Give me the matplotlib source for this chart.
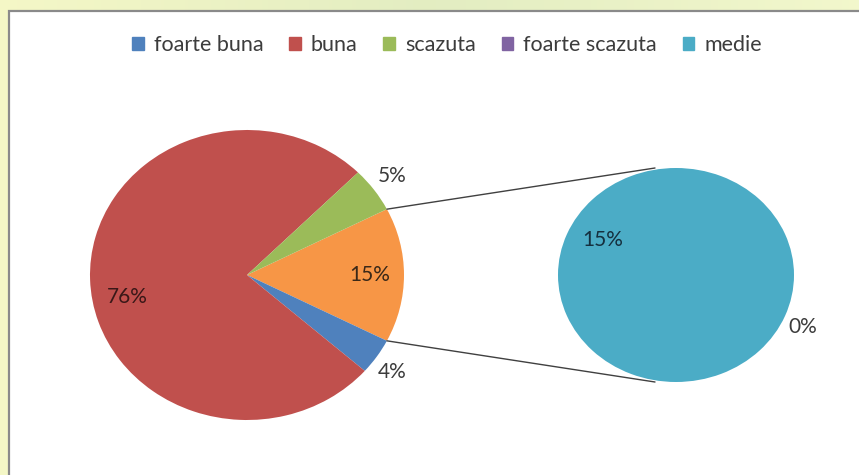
import numpy as np
import matplotlib.pyplot as plt
from matplotlib.patches import Rectangle, ConnectionPatch

# data
categories = ["foarte buna", "buna", "scazuta", "foarte scazuta", "medie"]
values = [4, 76, 5, 0, 15]
colors = ["#4F81BD", "#C0504D", "#9BBB59", "#8064A2", "#4BACC6"]
other_color = "#F79646"

W, H = 859, 475
fig = plt.figure(figsize=(W / 100, H / 100), dpi=100)

def box(x0, y0, x1, y1):
    # pixel box (top-left origin) -> figure fraction rect
    return [x0 / W, 1 - y1 / H, (x1 - x0) / W, (y1 - y0) / H]

# slide background strip + white chart area
bg = fig.add_axes([0, 0, 1, 1])
grad = np.linspace(0, 1, 256)
c_left = np.array([0.96, 0.97, 0.78])
c_mid = np.array([0.89, 0.93, 0.76])
c_right = np.array([0.95, 0.97, 0.80])
row = np.where(grad[:, None] < 0.5,
               c_left + (c_mid - c_left) * (grad[:, None] / 0.5),
               c_mid + (c_right - c_mid) * ((grad[:, None] - 0.5) / 0.5))
bg.imshow(row[None, :, :], aspect="auto", extent=[0, 1, 0, 1])
bg.add_patch(Rectangle((9 / W, -0.05), 1.0, 1 - 11 / H + 0.05,
                       facecolor="white", edgecolor="#8a8a8a", lw=1.6,
                       transform=bg.transAxes))
bg.set_xlim(0, 1)
bg.set_ylim(0, 1)
bg.axis("off")

# main pie: "other" group = foarte scazuta + medie
other = values[3] + values[4]
main_vals = [other, values[0], values[1], values[2]]
main_cols = [other_color, colors[0], colors[1], colors[2]]
ax1 = fig.add_axes(box(90, 130, 404, 420))
ax1.pie(main_vals, colors=main_cols, startangle=other / 100 * 180,
        counterclock=False, radius=1, wedgeprops=dict(linewidth=0))
ax1.set_aspect("auto")
ax1.set_xlim(-1, 1)
ax1.set_ylim(-1, 1)
ax1.axis("off")

# secondary pie
ax2 = fig.add_axes(box(558, 168, 794, 382))
sub_vals = [values[4], values[3]]
ax2.pie(sub_vals, colors=[colors[4], colors[3]], startangle=90,
        counterclock=False, radius=1, wedgeprops=dict(linewidth=0))
ax2.set_aspect("auto")
ax2.set_xlim(-1, 1)
ax2.set_ylim(-1, 1)
ax2.axis("off")

fnt = dict(family=["Lato", "DejaVu Sans"], fontsize=15)
ax1.text(0.924, 0.683, f"{values[2]}%", ha="center", va="center", color="#3c3c3c", **fnt)
ax1.text(0.78, 0.0, f"{other}%", ha="center", va="center", color="#3a2818", **fnt)
ax1.text(-0.764, -0.152, f"{values[1]}%", ha="center", va="center", color="#3a1818", **fnt)
ax1.text(0.924, -0.669, f"{values[0]}%", ha="center", va="center", color="#3c3c3c", **fnt)
ax2.text(-0.62, 0.327, f"{values[4]}%", ha="center", va="center", color="#15303f", **fnt)
ax2.text(1.07, -0.486, f"{values[3]}%", ha="center", va="center", color="#3c3c3c", **fnt)

# connector lines
a = np.deg2rad(other / 100 * 180)
for sgn in (1, -1):
    con = ConnectionPatch(xyA=(np.cos(a), sgn * np.sin(a)), coordsA=ax1.transData,
                          xyB=(-0.178, sgn * 1.0), coordsB=ax2.transData,
                          color="#404040", lw=1.0)
    fig.add_artist(con)

# legend
handles = [Rectangle((0, 0), 1, 1, color=c) for c in colors]
fig.legend(handles, categories, loc="center", bbox_to_anchor=(447 / W, 1 - 45 / H),
           ncol=5, frameon=False, handlelength=0.55, handleheight=0.55,
           handletextpad=0.45, columnspacing=1.2,
           prop=dict(family=["Lato", "DejaVu Sans"], size=15.5), labelcolor="#3c3c3c")

fig.savefig("out.png", dpi=100)
